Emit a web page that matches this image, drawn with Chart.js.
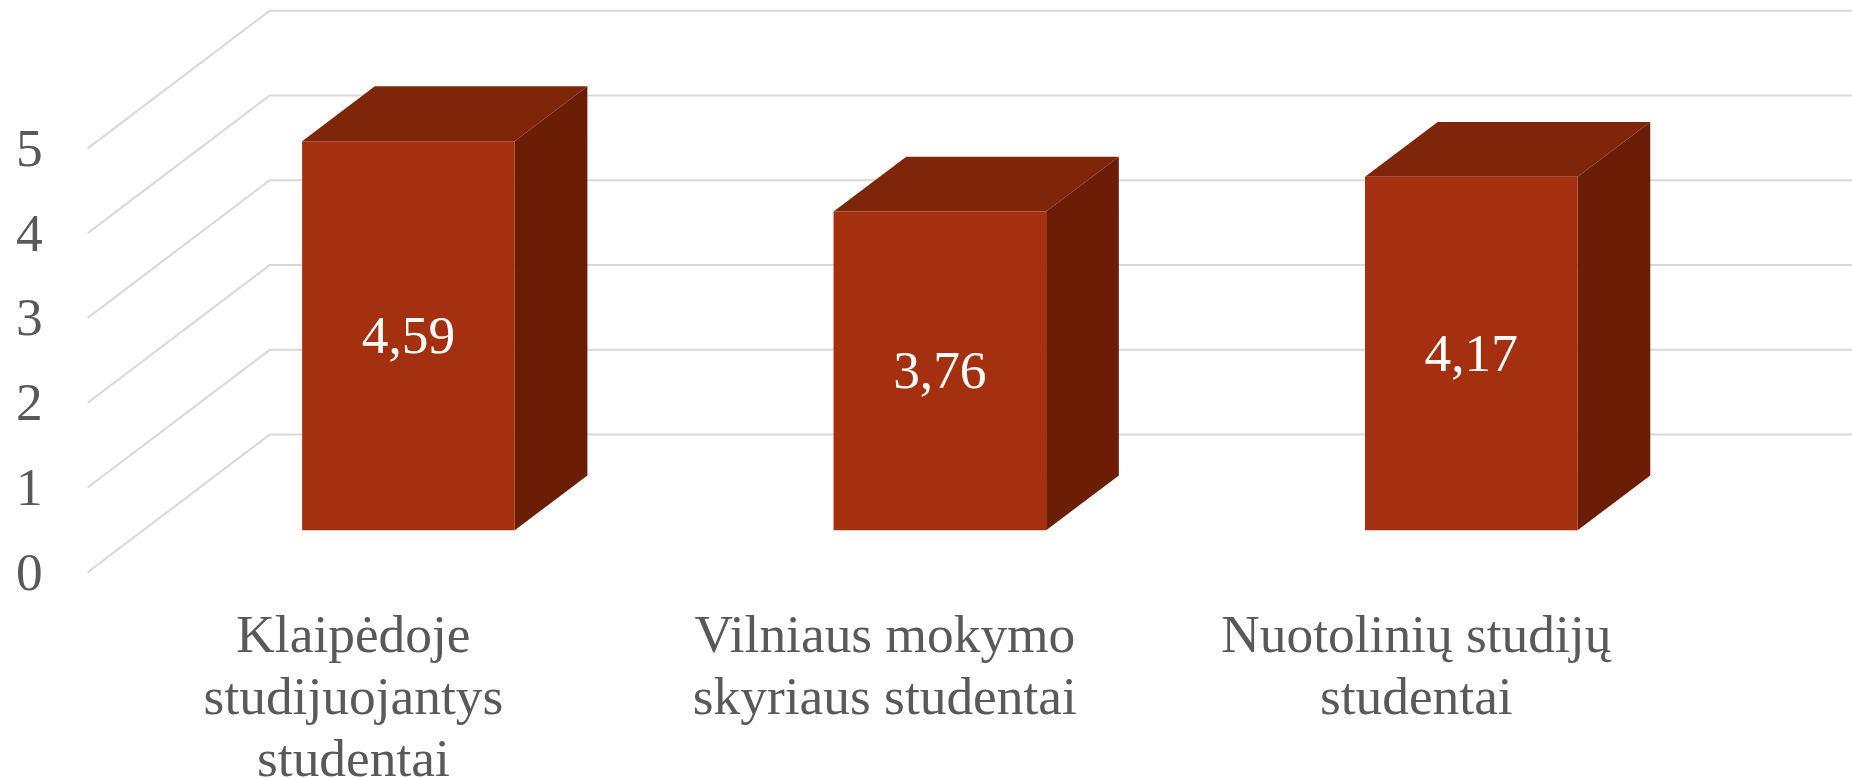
<!DOCTYPE html>
<html>
<head>
<meta charset="utf-8">
<style>
    html, body { margin: 0; padding: 0; background: #fff; overflow: hidden; }
    canvas { display: block; }
</style>
<script src="https://cdn.jsdelivr.net/npm/chart.js@4"></script>
</head>
<body>
<canvas id="chart3d" width="1852" height="778"></canvas>
<script>
const categories = [
    ["Klaipėdoje", "studijuojantys", "studentai"],
    ["Vilniaus mokymo", "skyriaus studentai"],
    ["Nuotolinių studijų", "studentai"]
];
const values = [4.59, 3.76, 4.17];
const yTicks = [0, 1, 2, 3, 4, 5];

const fontFamily = "'Liberation Serif', 'Times New Roman', serif";
const fontSize = 53.4;
const textColor = "#595959";
const gridColor = "#d9d9d9";
const frontColor = "#a5300f";
const topColor = "#7f2509";
const sideColor = "#6b1d06";

// the fake 3D: how far the wall, the bar front and the bar back sit from the front plane
const wallDepth = { x: 182, y: 137.6 };
const barInset = { x: 55, y: 42 };
const barDepth = { x: 72.7, y: 54.8 };

function fillPoly(ctx, color, pts) {
    ctx.fillStyle = color;
    ctx.beginPath();
    pts.forEach((p, i) => i ? ctx.lineTo(p[0], p[1]) : ctx.moveTo(p[0], p[1]));
    ctx.closePath();
    ctx.fill();
}

const box3d = {
    id: "box3d",
    beforeDatasetsDraw(chart) {
        const ctx = chart.ctx;
        const area = chart.chartArea;

        // side wall and back wall lines
        ctx.save();
        ctx.strokeStyle = gridColor;
        ctx.lineWidth = 2;
        yTicks.forEach(v => {
            const y = chart.scales.y.getPixelForValue(v);
            ctx.beginPath();
            ctx.moveTo(area.left, y);
            ctx.lineTo(area.left + wallDepth.x, y - wallDepth.y);
            ctx.lineTo(chart.width, y - wallDepth.y);
            ctx.stroke();
        });
        ctx.restore();

        // bars sit inside the box, so everything from here on is shifted back
        ctx.save();
        ctx.translate(barInset.x, -barInset.y);
        chart.getDatasetMeta(0).data.forEach(bar => {
            const left = bar.x - bar.width / 2;
            const right = bar.x + bar.width / 2;
            fillPoly(ctx, sideColor, [
                [right, bar.y],
                [right + barDepth.x, bar.y - barDepth.y],
                [right + barDepth.x, bar.base - barDepth.y],
                [right, bar.base]
            ]);
            fillPoly(ctx, topColor, [
                [left, bar.y],
                [left + barDepth.x, bar.y - barDepth.y],
                [right + barDepth.x, bar.y - barDepth.y],
                [right, bar.y]
            ]);
        });
    },
    afterDatasetsDraw(chart) {
        const ctx = chart.ctx;
        ctx.fillStyle = "#fff";
        ctx.font = fontSize + "px " + fontFamily;
        ctx.textAlign = "center";
        ctx.textBaseline = "middle";
        chart.getDatasetMeta(0).data.forEach((bar, i) => {
            ctx.fillText(String(values[i]).replace(".", ","), bar.x, (bar.y + bar.base) / 2 + 3.5);
        });
        ctx.restore();
    }
};

new Chart(document.getElementById("chart3d"), {
    type: "bar",
    data: {
        labels: categories,
        datasets: [{
            data: values,
            backgroundColor: frontColor,
            borderWidth: 0,
            barPercentage: 0.4,
            categoryPercentage: 1,
            clip: false
        }]
    },
    options: {
        responsive: false,
        animation: false,
        layout: { padding: { top: 148.4, right: 170, left: 0, bottom: 0 } },
        plugins: { legend: { display: false }, tooltip: { enabled: false } },
        scales: {
            x: {
                grid: { display: false, drawTicks: false },
                border: { display: false },
                afterFit(scale) { scale.height = 205.8; },
                ticks: {
                    color: textColor,
                    autoSkip: false,
                    maxRotation: 0,
                    padding: 34.5,
                    font: { family: fontFamily, size: fontSize, lineHeight: 1.16 }
                }
            },
            y: {
                min: 0,
                max: 5,
                grid: { display: false, drawTicks: false },
                border: { display: false },
                afterBuildTicks(scale) { scale.ticks = yTicks.map(v => ({ value: v })); },
                afterFit(scale) { scale.width = 87.7; },
                ticks: {
                    color: textColor,
                    padding: 45,
                    labelOffset: 3.5,
                    font: { family: fontFamily, size: fontSize }
                }
            }
        }
    },
    plugins: [box3d]
});
</script>
</body>
</html>
